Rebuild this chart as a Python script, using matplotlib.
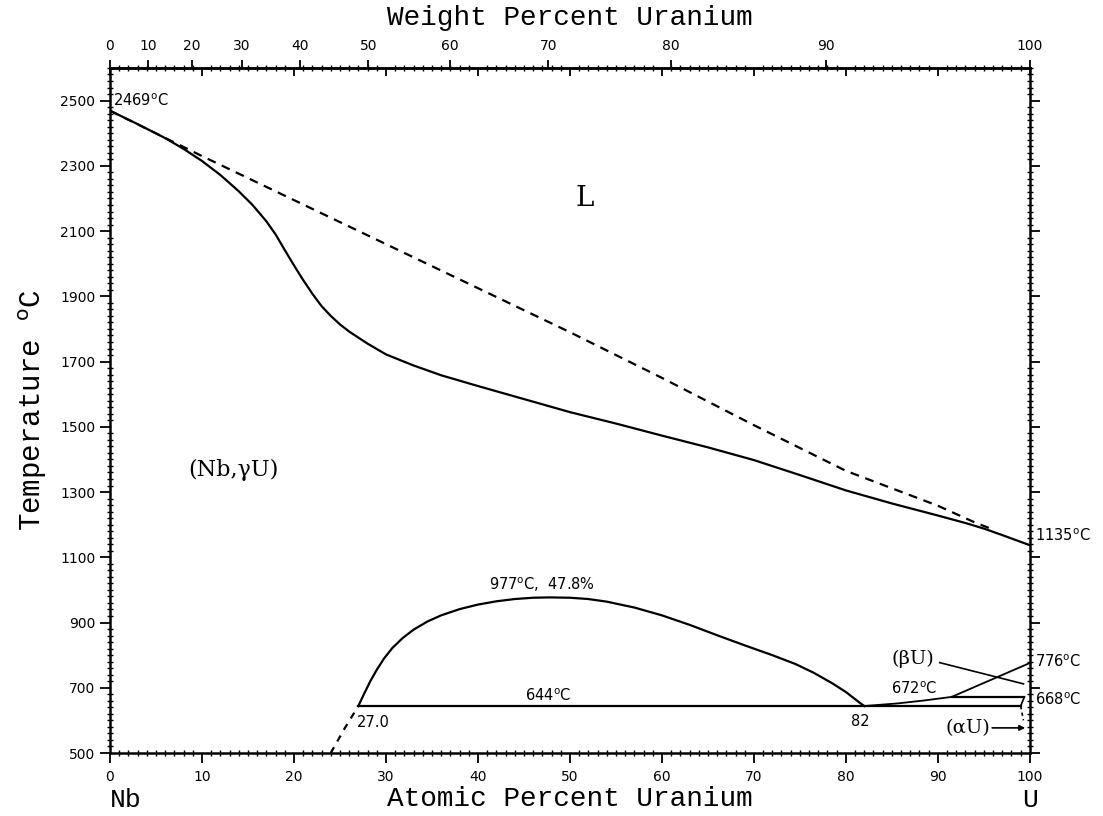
import numpy as np
import matplotlib.pyplot as plt
from matplotlib.ticker import MultipleLocator, FixedLocator, NullFormatter

# liquidus (solid line), atomic % U vs temperature
liq_x = [0, 3, 6, 8, 10, 12, 14, 15.5, 17, 18, 19, 20, 21, 22, 23, 24, 25, 26,
         28, 30, 33, 36, 40, 45, 50, 55, 60, 65, 70, 75, 80, 85, 90, 93, 95, 97, 100]
liq_t = [2469, 2428, 2385, 2352, 2315, 2272, 2222, 2180, 2130, 2090, 2042, 1995,
         1950, 1908, 1870, 1840, 1814, 1792, 1755, 1722, 1688, 1658, 1625, 1585,
         1545, 1510, 1473, 1437, 1398, 1352, 1305, 1265, 1228, 1205, 1188, 1168, 1137]

# solidus (dashed)
sol_x = [0, 10, 20, 30, 40, 50, 60, 70, 80, 90, 94, 96]
sol_t = [2469, 2330, 2195, 2060, 1925, 1790, 1650, 1505, 1365, 1258, 1207, 1185]

# miscibility gap
gap_x = [27.0, 27.6, 28.3, 29.0, 29.8, 30.7, 31.8, 33.0, 34.5, 36.0, 38.0, 40.0,
         42.0, 44.0, 46.0, 47.8, 50.0, 52.0, 54.0, 57.0, 60.0, 63.0, 66.0, 69.0,
         72.0, 74.5, 76.5, 78.5, 80.0, 81.0, 81.6, 82.0]
gap_t = [644, 680, 720, 755, 790, 822, 852, 878, 903, 922, 941, 955, 965, 972, 976,
         977, 976, 972, 964, 946, 922, 893, 861, 830, 800, 773, 746, 714, 687, 665,
         652, 644]
gap_dash_x = [24.0, 25.5, 27.0]
gap_dash_t = [500, 575, 644]

# monotectoid and eutectoid horizontals
mono_x = [27.0, 99.0]
mono_t = [644, 644]
eut_x = [91.5, 99.4]
eut_t = [672, 672]

# (gamma U)/(beta U) boundary
beta_x = [82.0, 85.6, 88.5, 91.5, 100]
beta_t = [644, 652, 661, 672, 776]

# small boundaries near pure U
au_x = [99.0, 99.2, 99.4]
au_t = [644, 658, 672]
au_dash_x = [99.0, 99.3]
au_dash_t = [644, 600]

M_U = 238.03
M_NB = 92.906


def at_to_wt(a):
    a = np.asarray(a, dtype=float)
    with np.errstate(divide="ignore", invalid="ignore"):
        return 100 * a * M_U / (a * M_U + (100 - a) * M_NB)


def wt_to_at(w):
    w = np.asarray(w, dtype=float)
    with np.errstate(divide="ignore", invalid="ignore"):
        return 100 * (w / M_U) / (w / M_U + (100 - w) / M_NB)


fig = plt.figure(figsize=(11.03, 8.16), dpi=100)
ax = fig.add_axes([0.0997, 0.0772, 0.834, 0.8395])

lw = 1.6
ax.plot(liq_x, liq_t, color="black", lw=lw)
ax.plot(sol_x, sol_t, color="black", lw=lw, ls=(0, (4, 3)))
ax.plot(gap_x, gap_t, color="black", lw=lw)
ax.plot(gap_dash_x, gap_dash_t, color="black", lw=lw, ls=(0, (3, 3)))
ax.plot(mono_x, mono_t, color="black", lw=lw)
ax.plot(eut_x, eut_t, color="black", lw=lw)
ax.plot(beta_x, beta_t, color="black", lw=1.3)
ax.plot(au_x, au_t, color="black", lw=1.2)
ax.plot(au_dash_x, au_dash_t, color="black", lw=1.2, ls=(0, (2, 2)))

ax.set_xlim(0, 100)
ax.set_ylim(500, 2600)

for s in ax.spines.values():
    s.set_linewidth(1.8)

ax.xaxis.set_major_locator(MultipleLocator(10))
ax.xaxis.set_minor_locator(MultipleLocator(1))
ax.yaxis.set_major_locator(FixedLocator(np.arange(500, 2600, 200)))
ax.yaxis.set_minor_locator(MultipleLocator(20))
ax.tick_params(which="major", direction="out", length=7, width=1.3,
               labelsize=10, left=True, right=True, bottom=True, top=False)
ax.tick_params(which="minor", direction="inout", length=4, width=1,
               left=True, right=True, bottom=True, top=True)
ax.tick_params(axis="x", which="major", pad=5)

# inward atomic percent ticks on the top edge
top_in = ax.secondary_xaxis("top")
top_in.xaxis.set_major_locator(MultipleLocator(10))
top_in.xaxis.set_major_formatter(NullFormatter())
top_in.tick_params(which="major", direction="in", length=6, width=1.3)

# top axis, weight percent
sec = ax.secondary_xaxis("top", functions=(at_to_wt, wt_to_at))
sec.xaxis.set_major_locator(FixedLocator(np.arange(0, 101, 10)))
sec.xaxis.set_minor_locator(FixedLocator([]))
sec.tick_params(which="major", direction="out", length=6, width=1.3,
                labelsize=10, pad=5)
sec.spines["top"].set_linewidth(1.8)
sec.set_xlabel("Weight Percent Uranium", family="Liberation Mono", fontsize=20,
               labelpad=10)

ax.set_xlabel("Atomic Percent Uranium", family="Liberation Mono", fontsize=20,
              labelpad=2)
ax.set_ylabel("Temperature $^{\\rm o}$C", family="Liberation Mono", fontsize=21,
              labelpad=8)

ax.text(0.0, -0.068, "Nb", transform=ax.transAxes, family="Liberation Mono",
        fontsize=19, ha="left", va="center")
ax.text(1.0, -0.068, "U", transform=ax.transAxes, family="Liberation Mono",
        fontsize=19, ha="center", va="center")

fs = 10.5
ax.text(0.3, 2500, "2469$^{\\rm o}$C", fontsize=fs, ha="left", va="center")
ax.text(100.6, 1165, "1135$^{\\rm o}$C", fontsize=fs, ha="left", va="center")
ax.text(47.0, 1015, "977$^{\\rm o}$C,  47.8%", fontsize=fs, ha="center", va="center")
ax.text(47.6, 676, "644$^{\\rm o}$C", fontsize=fs, ha="center", va="center")
ax.text(28.6, 592, "27.0", fontsize=fs, ha="center", va="center")
ax.text(81.6, 597, "82", fontsize=fs, ha="center", va="center")
ax.text(87.4, 697, "672$^{\\rm o}$C", fontsize=fs, ha="center", va="center")
ax.text(100.6, 780, "776$^{\\rm o}$C", fontsize=fs, ha="left", va="center")
ax.text(100.6, 662, "668$^{\\rm o}$C", fontsize=fs, ha="left", va="center")

ax.text(51.6, 2200, "L", family="DejaVu Serif", fontsize=20, ha="center", va="center")
ax.text(13.4, 1369, "(Nb,γU)", family="DejaVu Serif", fontsize=16, ha="center",
        va="center")
ax.text(87.3, 790, "(βU)", family="DejaVu Serif", fontsize=14, ha="center", va="center")
ax.plot([90.2, 99.3], [777, 712], color="black", lw=1.2)
ax.text(93.3, 577, "(αU)", family="DejaVu Serif", fontsize=14, ha="center", va="center")
ax.annotate("", xy=(99.8, 577), xytext=(95.6, 577),
            arrowprops=dict(arrowstyle="-|>", color="black", lw=1.2,
                            mutation_scale=8))

fig.savefig("out.png", dpi=100)
